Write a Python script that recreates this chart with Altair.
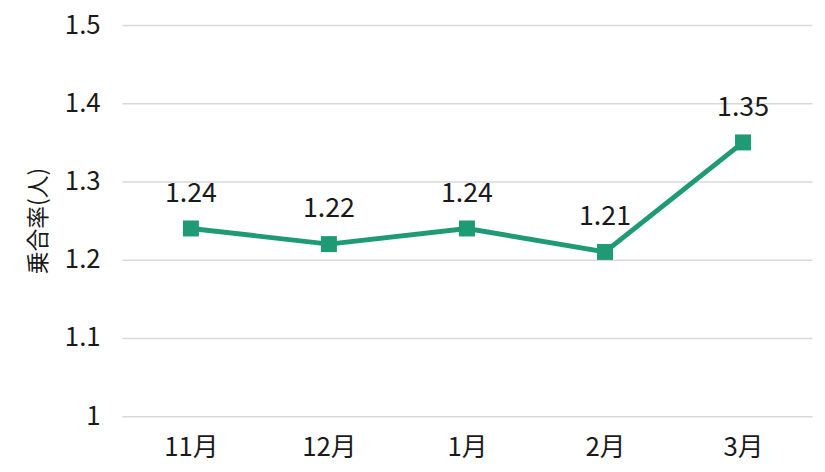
import altair as alt
import pandas as pd

months = ["11月", "12月", "1月", "2月", "3月"]
values = [1.24, 1.22, 1.24, 1.21, 1.35]
y_ticks = [1.0, 1.1, 1.2, 1.3, 1.4, 1.5]

df = pd.DataFrame({"month": months, "value": values})

FONT = "Noto Sans CJK JP"
GREEN = "#1e9a74"
TXT = "#1a1a1a"

base = alt.Chart(df).encode(
    x=alt.X("month:N", sort=months, title=None,
            axis=alt.Axis(labelAngle=0, ticks=False, domain=False, grid=False,
                          labelFontSize=26, labelFont=FONT, labelColor=TXT,
                          labelPadding=19)),
    y=alt.Y("value:Q", title="乗合率(人)",
            scale=alt.Scale(domain=[1.0, 1.5], nice=False, zero=False),
            axis=alt.Axis(values=y_ticks, format="~g", ticks=False, domain=False,
                          grid=True, gridColor="#d9d9d9", gridWidth=1.5,
                          labelFontSize=26, labelFont=FONT, labelColor=TXT,
                          labelPadding=22, titleFontSize=23, titleFont=FONT,
                          titleFontWeight="normal", titleColor=TXT,
                          titlePadding=14)),
)

line = base.mark_line(color=GREEN, strokeWidth=5)
pts = base.mark_point(shape="square", filled=True, color=GREEN, size=260, opacity=1)
labels = base.mark_text(dy=-21, baseline="bottom", fontSize=27, font=FONT,
                        color=TXT).encode(text=alt.Text("value:Q", format=".2f"))

chart = (line + pts + labels).properties(
    width=697, height=395,
    autosize=alt.AutoSizeParams(type="none"),
    padding={"left": 115, "top": 15, "right": 5, "bottom": 46},
).configure_view(stroke=None)

chart.save("out.html", embed_options={"renderer": "svg", "actions": False})
